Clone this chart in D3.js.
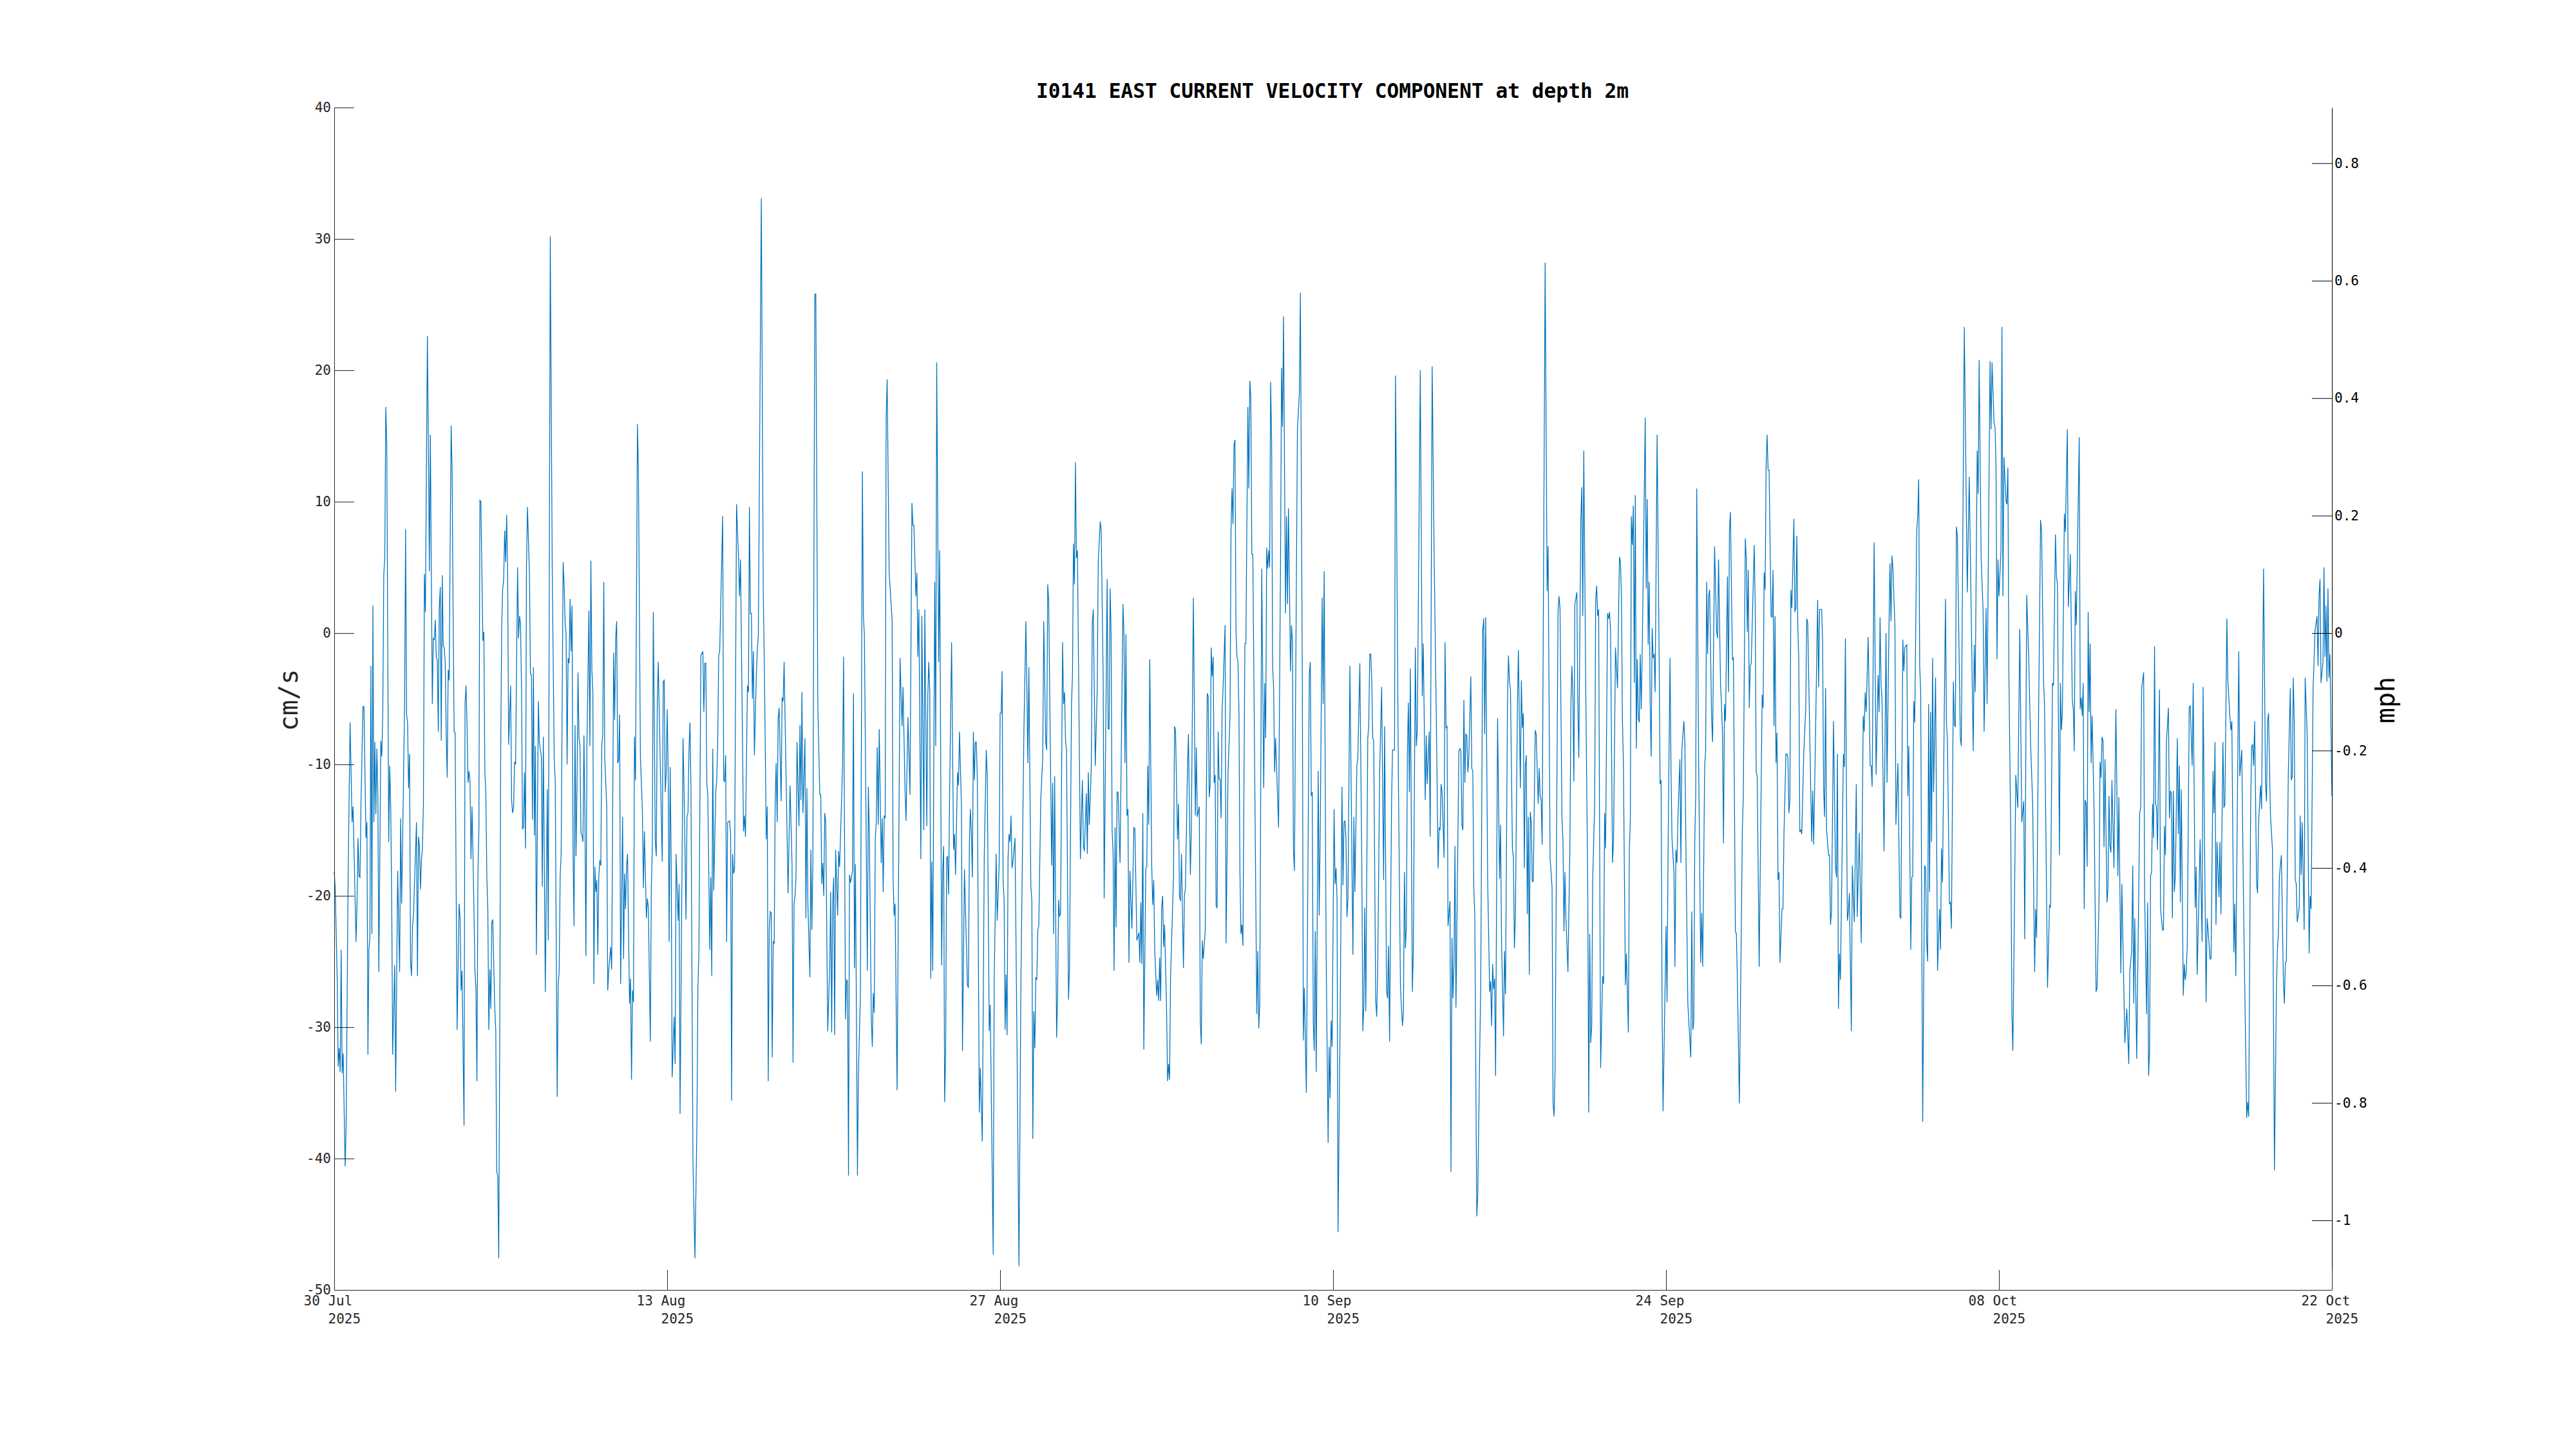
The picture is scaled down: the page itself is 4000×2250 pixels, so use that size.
<!DOCTYPE html>
<html>
<head>
<meta charset="utf-8">
<script src="https://d3js.org/d3.v7.min.js"></script>
<style>
  html, body { margin: 0; padding: 0; background: #fff; }
  text { font-family: "DejaVu Sans Mono", monospace; }
</style>
</head>
<body>
<div id="chart"></div>
<script>
const fortnight1 = [[0,-18.2],[1,-19.4],[3,-26.4],[4,-33],[5,-31.6],[6,-33.4],[7,-24.1],[8,-33.5],[9,-32],[11,-40.6],[12,-37.5],[14,-18.8],[16,-6.8],[18,-14.4],[19,-13.2],[22,-23.5],[23,-20.6],[24,-15.6],[25,-18.5],[26,-18.6],[27,-13],[29,-5.6],[30,-5.6],[32,-15.6],[33,-14.4],[34,-32.1],[35,-24.1],[36,-23.2],[37,-2.5],[38,-22.9],[39,2.1],[40,-14.4],[41,-8.3],[42,-13.8],[43,-8.8],[44,-12.1],[45,-25.8],[47,-8.2],[48,-9.4],[49,-6],[50,4.5],[51,5.7],[52,17.2],[53,14.4],[55,-15.9],[56,-10.1],[57,-13.2],[58,-20.5],[59,-32.1],[61,-25.3],[62,-34.9],[64,-18.1],[66,-25.8],[67,-14.1],[68,-20.6],[69,-15.9],[71,-5.4],[72,7.9],[73,-6.2],[74,-6.8],[75,-11.8],[76,-9.2],[77,-25],[78,-26.1],[79,-22.3],[80,-21.4],[83,-14.4],[84,-26.1],[85,-15.5],[86,-16.2],[87,-19.5],[88,-17.3],[89,-16.4],[90,-13],[91,4.5],[92,1.6],[94,22.6],[95,14.4],[96,4.7],[97,15.1],[98,4.5],[99,-5.4],[100,-0.4],[101,-0.5],[102,1],[103,-1.9],[104,-2],[105,-7.5],[106,1.9],[107,3.5],[108,-8.2],[109,4.4],[110,-1],[111,-1.1],[112,-2.2],[113,-7.7],[114,-11],[115,-2.8],[116,-3.6],[117,6.9],[118,15.8],[119,12.2],[120,1],[121,-7.5],[122,-7.6],[124,-30.2],[126,-20.6],[127,-21.7],[128,-27.2],[129,-25.7],[131,-37.5],[132,-5.4],[133,-4],[134,-7.1],[135,-11.4],[136,-10.5],[137,-11.2],[138,-17.2],[139,-13.2],[140,-16.8],[142,-25.6],[143,-27.1],[144,-34.1],[145,-18.3],[146,-14.8],[147,10.1],[148,10],[150,-0.6],[151,0.1],[152,-10.6],[153,-12.1],[154,-18.5],[155,-21.1],[156,-30.2],[157,-25.6],[158,-28.6],[159,-22],[160,-21.8],[162,-28.6],[163,-30.2],[164,-41],[165,-41.3],[166,-47.6],[167,-31],[168,-8.9],[169,0.5],[170,3.4],[171,4.1],[172,7.8],[173,5.4],[174,9],[175,4.5],[176,-8.5],[178,-4],[179,-12.7],[180,-13.7],[181,-13.3],[182,-9.8],[183,-10],[185,5],[186,-0.4],[187,1.3],[188,0.8],[189,-4.2],[190,-14.9],[191,-14.8],[192,-10.6],[193,-16.4],[194,5.1],[195,9.6],[197,4.5],[198,-3.1],[199,-3.2],[200,-14.2],[201,-2.6],[202,-15.4],[203,-8.6],[204,-24.5],[206,-5.2],[207,-8.3],[209,-9.4],[210,-19.3],[211,-7.9],[213,-27.3],[215,-11.9],[216,-23.4],[218,30.2],[220,4.8],[222,-9.5],[223,-11.2],[225,-35.3],[226,-26.7],[227,-25.8],[228,-18.5],[229,-16.8],[231,5.4],[232,3.6],[233,0.8],[234,-0.1],[235,-10],[236,-1.9],[237,-2.3],[238,2.6],[239,-1.4],[240,2.1],[241,-16.8],[242,-22.3],[243,-7],[244,-17],[245,-11.6],[246,-3],[247,-8],[248,-8.6],[249,-15.2],[250,-15.4],[251,-15.9],[252,-7.8],[253,-14.2],[254,-24.6],[255,-8.6],[257,1.7],[258,-8.6],[259,5.5],[260,-2.8],[261,-4.5],[262,-26.7],[263,-17.8],[264,-19.7],[265,-18.8],[266,-24.5],[267,-18.5],[268,-17.3],[269,-17.7],[270,-8.6],[271,-7.7],[272,3.9],[273,-9.5],[275,-13.2],[276,-27.2],[277,-25.7],[279,-23.9],[280,-25.6],[282,-1.5],[283,-6.6],[284,-0.4],[285,0.9],[286,-9.9],[287,-9.7],[288,-6.2],[289,-26.7],[291,-14],[292,-24.8],[293,-18.3],[294,-21],[295,-17.7],[296,-16.8],[298,-28.2],[299,-26.3],[300,-34],[301,-27.2],[302,-28.1],[303,-7.9],[304,-11.2],[306,15.9],[307,12.1],[309,-9.5],[311,-13.6]];
const fortnight2 = [[312,-19.4],[313,-15.1],[315,-21.7],[316,-20.2],[317,-20.9],[319,-31.1],[320,-19.4],[321,-16.2],[322,1.6],[324,-15.9],[325,-17],[326,-5.4],[327,-2.2],[331,-17.4],[332,-3.7],[333,-3.6],[334,-12.1],[335,-10.7],[336,-5.8],[337,-10.6],[338,-23.5],[339,-10.2],[340,-17],[341,-33.8],[343,-29.2],[344,-32.8],[345,-16.8],[347,-21.9],[348,-19.1],[349,-36.6],[352,-8],[353,-11.8],[355,-21.8],[356,-13.9],[357,-13.7],[358,-8.9],[359,-6.8],[360,-11.8],[362,-40.2],[364,-47.6],[366,-37.5],[367,-27],[368,-24.4],[370,-1.7],[372,-1.4],[373,-6],[374,-2.3],[375,-2.3],[376,-11.4],[377,-12.4],[379,-24.1],[380,-18.6],[381,-26.1],[382,-8.8],[383,-19.6],[385,-12.1],[386,-11.2],[387,-8.3],[388,-1.7],[389,-1.4],[392,8.9],[393,-11.2],[394,-11.3],[395,-9.3],[396,-23.5],[397,-14.4],[399,-14.3],[400,-15.3],[401,-35.6],[402,-16.8],[403,-18.3],[404,-18],[406,9.8],[408,5.7],[409,2.8],[410,5.6],[413,-15.1],[414,-13.9],[415,-15.5],[417,-4],[418,-4.5],[419,9.6],[420,1.5],[421,1.5],[422,-5],[423,-1.4],[424,-9.3],[426,-3.1],[427,-1.3],[428,-0.1],[431,33.1],[433,2.8],[434,-2.2],[436,-15.7],[437,-13.2],[438,-34.1],[439,-22.6],[440,-21.2],[441,-21.3],[442,-32.3],[443,-23.5],[444,-23.6],[445,-12.7],[446,-9.9],[447,-14.4],[448,-6.5],[449,-5.7],[451,-12.8],[452,-4.9],[453,-5.2],[454,-2.2],[458,-19.8],[460,-11.6],[462,-17.6],[463,-32.7],[464,-20.6],[465,-20],[466,-18.6],[467,-8.3],[469,-14.7],[470,-7],[471,-12.7],[472,-4.5],[473,-13.7],[475,-8],[476,-21.7],[477,-11.8],[478,-20.6],[480,-26.2],[481,-16.5],[482,-22.6],[483,-17.6],[485,25.8],[486,25.8],[488,-5.4],[490,-12.3],[491,-12.3],[492,-19.1],[493,-17.5],[494,-20],[495,-13.7],[496,-14.3],[498,-30.3],[500,-25.4],[501,-19.7],[502,-30.4],[503,-20.6],[504,-18.6],[505,-30.6],[506,-16.5],[508,-21.5],[509,-16.6],[510,-17.8],[513,-10.1],[514,-1.8],[516,-29.4],[517,-26.4],[518,-26.5],[519,-41.3],[520,-18.4],[521,-19],[523,-18.1],[524,-4.6],[525,-25.5],[526,-17.6],[528,-41.3],[529,-33.4],[531,-27.6],[533,12.3],[534,1.3],[535,-0.1],[538,-25.7],[539,-11.7],[540,-15.3],[542,-29.3],[543,-31.5],[544,-27.4],[545,-28.9],[546,-15.6],[547,-14.4],[548,-8.7],[549,-14.6],[550,-7.3],[552,-17.5],[553,-14.1],[554,-19.7],[555,-13.9],[556,-14.1],[557,16.3],[558,19.3],[560,4.6],[563,1],[564,-18.8],[565,-21.5],[566,-20.6],[568,-34.8],[570,-13.3],[571,-1.9],[573,-7.1],[574,-4.1],[576,-11.8],[577,-14.3],[579,-6.4],[581,-12.3],[583,9.9],[584,8.2],[585,8.2],[587,2.8],[588,4.6],[589,-1.8],[590,1.8],[592,-17.2],[593,1.3],[595,-15],[596,1.8],[598,-14.7],[599,-4.8],[600,-2.2],[601,-4.5],[602,-26.3],[603,-17.4],[604,-25.7],[606,3.9],[607,-8.6],[608,20.6],[610,-2.2],[611,6.3],[613,-25.3],[614,-18.2],[615,-16.2],[616,-35.7],[617,-32],[618,-17.1],[619,-17],[620,-19.9],[621,-12.4],[623,-0.7],[625,-16.5],[626,-15.3],[627,-18.4],[629,-10.6],[630,-11.6],[631,-7.5],[633,-13.3],[634,-31.8],[636,-18]];
const fortnight3 = [[639,-26.8],[640,-27],[641,-15.9],[642,-13.4],[643,-15.3],[644,-18.6],[645,-7.5],[646,-11.2],[647,-8.3],[648,-8.3],[649,-11.2],[651,-36.5],[652,-33.1],[654,-38.7],[656,-16.8],[658,-8.9],[659,-10.9],[661,-30.3],[662,-28.3],[665,-47.3],[666,-26.4],[668,-16.8],[669,-21.9],[671,-17.7],[672,-6.1],[673,-6.1],[674,-2.9],[675,-18.8],[676,-20.3],[677,-30.2],[678,-26],[679,-30.6],[680,-17.1],[681,-15.3],[682,-15.9],[683,-13.9],[684,-17.9],[685,-17.4],[687,-15.6],[689,-31.1],[691,-48.2],[693,-26.4],[696,-7.4],[698,0.9],[700,-9.9],[701,-2.6],[703,-19.3],[704,-20.3],[705,-38.5],[706,-28.8],[707,-31.6],[708,-26.2],[709,-26.4],[710,-22.6],[711,-22.3],[713,-12.7],[715,-9.5],[716,0.9],[718,-8.3],[719,-8.9],[720,3.7],[721,2.5],[724,-17.7],[725,-11.4],[726,-22.9],[727,-10.9],[729,-30.8],[730,-27.6],[731,-20.3],[732,-21.6],[733,-21.3],[735,-0.7],[736,-5.4],[737,-4.5],[738,-8.2],[739,-8.9],[741,-27.9],[742,-25.5],[744,-5.4],[745,-3.3],[746,6.8],[747,3.7],[748,13],[749,5.7],[750,6.3],[753,-17.2],[755,-11.2],[756,-16.2],[757,-16.6],[759,-12.2],[760,-16.8],[761,-10.6],[762,-14.6],[764,-10.1],[765,0.8],[766,1.8],[768,-10.1],[770,-4.2],[771,5.4],[773,8.5],[774,7.8],[776,-3.6],[777,-20.2],[780,4.1],[781,-7.3],[782,-7.3],[783,3.4],[784,-0.1],[785,-15],[786,-16.8],[787,-25.7],[788,-14.8],[789,-22.4],[790,-12.1],[791,-12.1],[793,-17.5],[795,-4.2],[796,2.2],[797,-0.1],[798,-9.9],[799,-0.1],[800,-13.9],[801,-13.4],[802,-25.1],[803,-18.1],[805,-22.5],[807,-14.8],[808,-14.9],[810,-23.4],[812,-22.8],[813,-25.1],[814,-20.5],[815,-25.2],[816,-13.7],[817,-31.7],[819,-17.9],[820,-17.8],[821,-10.1],[822,-14.6],[823,-2],[825,-17.7],[826,-20.7],[827,-18.8],[828,-24.1],[830,-27.6],[831,-26.4],[832,-28],[833,-24.7],[834,-28],[835,-20.9],[836,-20],[837,-23.9],[838,-22.2],[840,-28.8],[841,-34.1],[842,-32.8],[843,-34],[844,-26.1],[847,-18.5],[848,-7.1],[849,-7.4],[851,-15.7],[852,-13],[853,-20],[854,-20.4],[855,-16.8],[857,-25.5],[858,-20],[859,-19.4],[861,-10.6],[862,-7.7],[864,-18.4],[865,-14.7],[867,2.7],[869,-13.9],[870,-8.7],[871,-14],[873,-13.2],[874,-29.6],[875,-31.3],[876,-23.4],[877,-24.8],[879,-22.6],[881,-4.6],[882,-4.8],[883,-12.5],[884,-11.5],[885,-1.1],[886,-3.3],[887,-1.8],[888,-11.4],[889,-10.8],[890,-20.8],[891,-20.9],[892,-7.5],[893,-11.1],[894,-11.1],[895,-14.1],[896,-6],[897,-4.2],[899,0.6],[900,-23.6],[902,-10.6],[904,-6.3],[905,7.8],[906,11],[907,8.3],[908,14.3],[909,14.7],[910,0.2],[911,-1.8],[912,-2.2],[913,-6],[914,-18.2],[915,-22.9],[916,-22.2],[917,-23.8],[919,-0.8],[920,-0.8],[922,17.2],[923,11],[924,19.2],[925,17.9],[926,6],[927,6],[931,-29],[932,-24.2],[933,-30.1],[934,-28.2],[936,4.9],[938,-11.8],[939,-3.8],[940,-8],[941,6.5],[942,4.9],[943,6.3],[944,5],[945,19.1],[946,14.5],[947,-2.5],[948,-4.2],[949,-10.6],[950,-8],[953,-14.8],[955,5.7],[956,20.2],[957,15.7],[958,24.1],[959,12.7],[960,1.5],[961,8.9],[962,2.2],[963,9.5]];
const fortnight4 = [[965,-2.9],[966,0.6],[967,-0.7],[968,-16.5],[969,-18.1],[972,15.5],[974,18.3],[975,25.9],[977,-4.2],[978,-31],[979,-27],[981,-35],[984,-3.2],[985,-2.2],[986,-12.4],[987,-12.1],[988,-29.6],[989,-31.8],[990,-22.7],[991,-33.4],[993,-10.5],[994,-21.5],[995,-15.3],[997,2.7],[998,-5.4],[999,4.7],[1001,-24.4],[1003,-38.8],[1004,-31.5],[1005,-35.4],[1006,-29.5],[1007,-31.5],[1009,-13.4],[1010,-19.1],[1011,-17.9],[1012,-20.3],[1013,-45.6],[1015,-30.5],[1017,-11.7],[1018,-19.2],[1019,-14.4],[1020,-14.3],[1021,-15.6],[1022,-21.6],[1023,-20.3],[1025,-2.5],[1028,-24.5],[1029,-14],[1030,-19.7],[1032,-10.1],[1033,-9.5],[1035,-2.3],[1037,-17.7],[1038,-30.3],[1039,-28.5],[1040,-20.9],[1041,-28.8],[1043,-8],[1044,-7.1],[1045,-1.6],[1046,-1.6],[1047,-3.6],[1048,-8],[1049,-8.2],[1051,-27.9],[1052,-29.2],[1053,-25.8],[1055,-10.6],[1057,-4.1],[1059,-18.8],[1060,-7.1],[1062,-27.3],[1063,-27.8],[1064,-23.8],[1065,-31.1],[1067,-13],[1068,-8.9],[1070,-8.9],[1071,19.6],[1072,9.8],[1074,-11.8],[1076,-27],[1078,-29.9],[1079,-28.8],[1080,-18.2],[1081,-24],[1082,-22.3],[1083,-8.9],[1084,-5.3],[1085,-12.1],[1086,-2.7],[1088,-27.3],[1089,-24.1],[1091,-1.1],[1092,-8.6],[1093,-7.4],[1096,20],[1098,-4.8],[1099,-0.8],[1101,-12.7],[1102,-7.8],[1103,-11.5],[1105,-7.5],[1106,-15.5],[1108,20.3],[1110,5.7],[1112,-5.4],[1114,-17.9],[1115,-14.8],[1116,-15],[1117,-11.5],[1118,-12.1],[1120,-17.1],[1121,-0.7],[1122,-7.2],[1123,-7.1],[1124,-22.3],[1126,-20.4],[1127,-41],[1128,-23.2],[1129,-27.8],[1130,-25.2],[1131,-16.2],[1132,-28.5],[1134,-15.3],[1135,-9],[1136,-8.8],[1137,-9],[1138,-14.6],[1139,-15],[1140,-5.1],[1141,-11.4],[1142,-7.7],[1143,-7.8],[1144,-10.6],[1145,-9.5],[1147,-3.3],[1148,-10.3],[1149,-10.5],[1150,-19.4],[1151,-21.4],[1153,-44.4],[1154,-42.8],[1156,-31.7],[1157,-27],[1159,0.2],[1160,1.1],[1161,-7.7],[1162,1.2],[1164,-18.8],[1166,-27.3],[1167,-26.5],[1168,-29.9],[1169,-25.2],[1170,-27.1],[1171,-26.3],[1172,-33.7],[1174,-6.5],[1176,-18.7],[1177,-14.6],[1178,-23.5],[1180,-30.7],[1181,-24.2],[1182,-27.5],[1184,-5.4],[1185,-1.7],[1186,-3.7],[1187,-4.2],[1189,-16.5],[1190,-17.1],[1191,-24],[1192,-21.4],[1194,-5.7],[1195,-1.3],[1197,-11.8],[1198,-3.6],[1199,-7.2],[1200,-6.1],[1201,-17.9],[1202,-10.1],[1203,-9.3],[1204,-21.4],[1205,-14],[1206,-26],[1207,-13.6],[1208,-14.4],[1209,-18.9],[1210,-18.9],[1212,-7.4],[1213,-7.7],[1215,-13],[1216,-10.3],[1217,-12.4],[1218,-12.7],[1219,-16.1],[1222,28.2],[1224,3.2],[1225,6.6],[1227,-17.1],[1229,-19.4],[1230,-35.8],[1231,-36.8],[1232,-33.4],[1235,1.6],[1236,2.8],[1237,1.9],[1239,-14.1],[1240,-15.9],[1241,-22.7],[1242,-18.2],[1243,-21.7],[1245,-25.8],[1247,-16.2],[1248,-5.4],[1249,-2.5],[1250,-4.8],[1251,-11.3],[1252,2.2],[1254,3.1],[1255,-5.4],[1256,-9.5],[1258,8.6],[1259,11.1],[1260,1.3],[1261,13.9],[1263,-4.2],[1265,-19.4],[1266,-36.5],[1267,-22.9],[1268,-31.2],[1269,-29.9],[1270,-18.8],[1272,-13],[1273,2.5],[1274,3.6],[1275,1.3],[1276,1.8],[1278,-33.1],[1280,-26.1],[1281,-26.7],[1282,-13.7],[1283,-16.4],[1285,1.5],[1286,1.1],[1287,1.6]];
const fortnight5 = [[1288,0.2],[1290,-17.5],[1291,-15.9],[1293,-1.1],[1295,-4.2],[1297,5.8],[1298,5.4],[1299,2.8],[1300,-6.5],[1301,-10.1],[1303,-26.8],[1304,-24.4],[1306,-30.4],[1307,-16.5],[1308,-14.1],[1309,8.9],[1310,6.7],[1311,9.7],[1312,-3.8],[1313,10.5],[1314,-8.8],[1315,-2],[1316,-6.5],[1317,-6.8],[1318,-1.6],[1319,-5.8],[1320,-1.3],[1323,16.4],[1324,3.4],[1325,10.2],[1326,-0.9],[1327,3.9],[1328,-5.4],[1329,-9.4],[1330,0.4],[1331,-1.9],[1332,-1.6],[1333,-4.5],[1335,15.1],[1337,-1.3],[1338,-11.5],[1339,-11.2],[1340,-28.2],[1341,-36.4],[1342,-31.7],[1344,-22.3],[1345,-28.1],[1346,-17.1],[1348,-1.9],[1349,-10.1],[1350,-15.6],[1352,-18.2],[1353,-25.4],[1354,-16.5],[1355,-17.5],[1356,-14.1],[1358,-9.6],[1359,-17.5],[1360,-8.9],[1362,-6.7],[1363,-8.3],[1364,-15.9],[1366,-28.2],[1369,-32.3],[1370,-21.2],[1371,-30.2],[1372,-29.6],[1373,-15.9],[1374,-12.1],[1375,11],[1377,-10.6],[1379,-25.1],[1380,-21.3],[1381,-25.4],[1383,-10.1],[1384,-8.9],[1385,3.9],[1386,-1.6],[1387,2.8],[1388,3.3],[1390,-6.5],[1391,-8.3],[1393,6.6],[1395,0.2],[1396,-0.4],[1397,5.6],[1399,-3.9],[1400,-5.4],[1401,-7.7],[1402,-16],[1403,-5.4],[1404,-6.7],[1406,4.3],[1407,-4.5],[1408,7.8],[1409,9.2],[1411,-2],[1412,-1.9],[1414,-22.7],[1415,-22.9],[1416,-26.4],[1418,-35.8],[1420,-22.3],[1421,-15],[1422,-12.4],[1424,7.2],[1425,5.7],[1426,0.1],[1427,4.8],[1428,-5.7],[1429,-2.5],[1430,-2.3],[1433,6.7],[1434,2.2],[1435,-10.6],[1436,-10.9],[1438,-25.4],[1441,-4.7],[1442,-5.7],[1443,4.6],[1444,3.3],[1445,12.7],[1446,15.1],[1447,12.4],[1448,12.4],[1450,1.3],[1451,1.2],[1452,4.8],[1453,-7.1],[1454,1.3],[1455,-9.9],[1456,-7.6],[1457,-18.8],[1458,-18.2],[1459,-25.1],[1461,-21],[1462,-21],[1463,-15.3],[1465,-9.2],[1466,-9.2],[1467,-9.5],[1468,-13.7],[1469,-12.7],[1470,3.3],[1471,1.9],[1473,8.7],[1474,1.6],[1475,1.9],[1476,7.4],[1477,0.5],[1478,-2.2],[1479,-15.1],[1480,-15],[1481,-15.3],[1483,-9.1],[1485,-5.7],[1486,1.1],[1487,0.8],[1491,-15.9],[1492,-12],[1493,-16.1],[1495,-7.1],[1497,2.5],[1498,-4.1],[1499,1.8],[1501,1.8],[1502,-0.6],[1503,-11.8],[1504,-14],[1505,-4.2],[1506,-15],[1508,-16.9],[1509,-16.9],[1510,-22.2],[1511,-21.2],[1513,-6.7],[1515,-17.7],[1516,-18.6],[1517,-9.2],[1518,-28.6],[1519,-24.4],[1520,-26.4],[1523,-9.2],[1524,-10.2],[1525,-0.4],[1527,-21.9],[1528,-21.2],[1529,-19.8],[1531,-30.3],[1532,-17.7],[1533,-20],[1534,-22],[1536,-11.5],[1537,-21.6],[1539,-15.2],[1541,-23.6],[1543,-6.3],[1544,-7.5],[1545,-4.5],[1546,-6],[1548,-0.3],[1550,-10.1],[1551,-10.1],[1552,-11.7],[1554,6.9],[1556,-10.8],[1558,-3.2],[1559,-6],[1560,1.2],[1561,-3.9],[1562,-5.1],[1564,-16.6],[1566,0],[1567,-11.4],[1569,0.5],[1570,5.3],[1571,0.9],[1572,5.9],[1573,4.9],[1575,0.5],[1576,-14.6],[1578,-9.9],[1580,-21.6],[1581,-21.7],[1583,-0.5],[1584,-2.9],[1585,-1.1],[1587,-0.9],[1588,-12.4],[1589,-8.6],[1591,-24.1],[1592,-18.6],[1593,-18.5],[1594,-5.2],[1595,-6.8],[1597,7.8],[1598,8.9],[1599,11.7],[1600,-2.5],[1601,-4.5],[1603,-37.2],[1605,-17.7],[1606,-17.9],[1607,-23.5],[1608,-25],[1609,-5.4],[1610,-19.7],[1611,-6],[1612,-15.9]];
const fortnight6 = [[1613,-1.9],[1614,-12.1],[1616,-3.4],[1618,-25.7],[1620,-21],[1621,-24.1],[1622,-16.4],[1623,-19],[1626,2.6],[1627,-6.8],[1628,-8.3],[1630,-20.6],[1631,-20.5],[1632,-22.5],[1634,-3.7],[1635,-7],[1636,-7.1],[1637,8.1],[1638,7.4],[1641,-8],[1642,-8.6],[1645,23.3],[1648,3.1],[1650,11.9],[1654,-9],[1655,-0.9],[1656,-4.5],[1658,13.9],[1659,10.6],[1660,20.8],[1662,5.7],[1664,1.6],[1665,-7.5],[1667,1.9],[1668,-5.4],[1671,20.7],[1672,15.5],[1673,20.6],[1675,16],[1676,15.7],[1677,12.9],[1678,-2],[1679,5.6],[1680,2.8],[1682,6.3],[1683,23.3],[1684,2.8],[1685,13.4],[1687,10.1],[1688,9.8],[1689,12.6],[1690,-3],[1692,-16.2],[1693,-28.8],[1694,-31.8],[1695,-25.2],[1697,-10.8],[1699,-13.3],[1701,0.3],[1703,-14.4],[1705,-12.8],[1706,-23.3],[1708,2.9],[1710,-1.9],[1712,-8.6],[1714,-13],[1716,-25.8],[1717,-21],[1718,-23.2],[1720,-6],[1722,8.6],[1723,7.8],[1725,-3.7],[1726,-5.6],[1729,-27],[1731,-20.7],[1732,-20.9],[1734,-3.8],[1735,-4],[1737,7.5],[1738,4.3],[1739,3.7],[1741,-16.9],[1742,-3.8],[1743,-7.4],[1744,-6],[1746,9.1],[1747,7.7],[1749,15.5],[1750,2],[1752,6],[1754,-5.1],[1755,-5.8],[1756,-9],[1757,3.2],[1758,0.6],[1761,14.9],[1762,-5.8],[1763,-4.9],[1764,-6.3],[1765,-3.8],[1766,-21],[1767,-12.7],[1768,-13],[1769,-17.8],[1770,1.6],[1771,-6],[1772,-0.8],[1773,-9.9],[1774,-6.3],[1776,-13.6],[1778,-27.3],[1779,-27],[1781,-20.3],[1782,-9.8],[1783,-11],[1784,-7.9],[1785,-8.2],[1786,-16.3],[1787,-9.6],[1789,-20.5],[1790,-19.4],[1791,-12.4],[1792,-16.2],[1793,-16.7],[1794,-11.2],[1796,-17.9],[1798,-5.8],[1800,-18.5],[1801,-12.5],[1803,-25.9],[1804,-19.1],[1807,-31.2],[1809,-28.6],[1811,-32.8],[1812,-25.8],[1814,-24.1],[1815,-17.7],[1816,-28.2],[1817,-21.7],[1819,-32.4],[1822,-13.7],[1823,-13.3],[1824,-4.2],[1826,-3],[1827,-20],[1829,-29],[1830,-20.5],[1831,-33.7],[1832,-31.7],[1833,-18.5],[1834,-18.2],[1835,-13],[1836,-15.6],[1837,-1],[1838,-12.9],[1839,-13.3],[1840,-16.5],[1842,-4.3],[1843,-20.9],[1845,-22.6],[1846,-22.6],[1847,-14.7],[1848,-16.9],[1849,-8.3],[1851,-5.7],[1852,-14.1],[1853,-12],[1854,-12.2],[1855,-21.7],[1856,-12],[1857,-19.7],[1858,-18.4],[1860,-8],[1861,-15.3],[1862,-10.1],[1863,-20.5],[1864,-11.9],[1866,-27.6],[1867,-25.2],[1868,-26.4],[1869,-25.8],[1870,-23.8],[1872,-5.7],[1873,-5.5],[1875,-10.1],[1876,-3.8],[1878,-20.9],[1879,-17.8],[1880,-26],[1882,-19.4],[1883,-15.7],[1885,-23.5],[1886,-4.1],[1887,-12.4],[1889,-28.1],[1890,-21.7],[1891,-22.6],[1893,-24.8],[1894,-24.8],[1896,-10.5],[1897,-13.7],[1898,-8.3],[1899,-22.2],[1900,-15.9],[1902,-20.1],[1903,-15.9],[1904,-21.4],[1906,-8.3],[1907,-13.3],[1908,-13],[1910,1.1],[1911,-3.6],[1913,-6.3],[1914,-7.4],[1915,-6.7],[1917,-24.3],[1918,-20.6],[1919,-26.1],[1922,-1.4],[1923,-10.9],[1925,-8.9],[1927,-21.7],[1930,-36.9],[1931,-35.7],[1932,-36.8],[1934,-13],[1935,-8.6],[1936,-8.5],[1937,-10.1],[1938,-6.7],[1940,-19.1],[1941,-19.8],[1942,-14.4],[1944,-11.6],[1945,-13.4],[1947,4.9],[1949,-11.5],[1950,-12.8],[1951,-6.8],[1952,-6.1],[1954,-13.9],[1956,-16.5],[1958,-40.9],[1960,-27],[1961,-24.1],[1962,-22.9],[1963,-18.5],[1965,-16.9],[1967,-26.4],[1968,-28.2],[1969,-25.1],[1970,-25],[1972,-10.6],[1974,-4.2],[1975,-11.2],[1976,-10.9],[1977,-3.4],[1978,-6.8],[1979,-18.8],[1980,-19.1],[1981,-22],[1983,-20.9],[1984,-13.9],[1985,-18.4],[1986,-14.4],[1988,-22.6],[1989,-3.4],[1991,-7.7],[1993,-24.4],[1994,-20],[1995,-21],[1997,-4.2],[1999,0.2],[2001,1.3],[2002,-2.5],[2003,2.8],[2004,4.1],[2005,-3.8],[2007,-2.2],[2008,5],[2009,-1.8],[2010,2.1],[2011,-3.7],[2012,3.4],[2013,-3.4],[2014,-1.6],[2016,-12.4]];

const cmTicks = [40, 30, 20, 10, 0, -10, -20, -30, -40, -50];
const mphTicks = [0.8, 0.6, 0.4, 0.2, 0, -0.2, -0.4, -0.6, -0.8, -1];
const dateTicks = ["2025-07-30", "2025-08-13", "2025-08-27", "2025-09-10", "2025-09-24", "2025-10-08", "2025-10-22"];

const MPH_POR_CMS = 0.0223694;
const inicio = Date.UTC(2025, 6, 30);
const serie = [...fortnight1, ...fortnight2, ...fortnight3, ...fortnight4, ...fortnight5, ...fortnight6]
    .map(d => ({ fecha: new Date(inicio + d[0] * 3600000), v: d[1] }));

const ancho = 4000, alto = 2250;
const xIzq = 519, xDer = 3621, yArriba = 167, yAbajo = 2003;
const tickLen = 31;
const fuenteTicks = 21;

const svg = d3.select("#chart").append("svg")
    .attr("width", ancho)
    .attr("height", alto)
    .style("display", "block");

const x = d3.scaleUtc()
    .domain([new Date(inicio), new Date("2025-10-22T00:00:00Z")])
    .range([xIzq, xDer]);
const yCm = d3.scaleLinear().domain([-50, 40]).range([yAbajo, yArriba]);
const yMph = d3.scaleLinear().domain([-50 * MPH_POR_CMS, 40 * MPH_POR_CMS]).range([yAbajo, yArriba]);

// Serie
const linea = d3.line().x(d => x(d.fecha)).y(d => yCm(d.v));
svg.append("path")
    .datum(serie)
    .attr("fill", "none")
    .attr("stroke", "#0072BD")
    .attr("stroke-width", 1.25)
    .attr("stroke-linejoin", "miter")
    .attr("d", linea);

// Ejes
function estilo(g, color, size) {
    g.selectAll("path, line").attr("stroke", color).attr("stroke-width", 1);
    g.selectAll("text")
        .attr("fill", color)
        .attr("font-size", size)
        .attr("font-family", '"DejaVu Sans Mono", monospace');
}

svg.append("g")
    .attr("transform", `translate(${xIzq},0)`)
    .call(d3.axisLeft(yCm).tickValues(cmTicks).tickFormat(String).tickSizeInner(-tickLen).tickSizeOuter(0).tickPadding(5))
    .call(estilo, "#262626", fuenteTicks);

svg.append("g")
    .attr("transform", `translate(${xDer},0)`)
    .call(d3.axisRight(yMph).tickValues(mphTicks).tickFormat(String).tickSizeInner(-tickLen).tickSizeOuter(0).tickPadding(4))
    .call(estilo, "#000", fuenteTicks);

const ejeX = svg.append("g")
    .attr("transform", `translate(0,${yAbajo})`)
    .call(d3.axisBottom(x).tickValues(dateTicks.map(d => new Date(d + "T00:00:00Z"))).tickFormat("").tickSizeInner(-tickLen).tickSizeOuter(0))
    .call(estilo, "#262626", fuenteTicks);

const fmtDia = d3.utcFormat("%d %b");
const fmtAnio = d3.utcFormat("%Y");
ejeX.selectAll(".tick").each(function (d) {
    const t = d3.select(this);
    t.select("text").remove();
    t.append("text").attr("x", -48).attr("y", 24).attr("text-anchor", "start")
        .attr("fill", "#262626").attr("font-size", fuenteTicks).text(fmtDia(d));
    t.append("text").attr("x", -10).attr("y", 52).attr("text-anchor", "start")
        .attr("fill", "#262626").attr("font-size", fuenteTicks).text(fmtAnio(d));
});

// Titulo y etiquetas
svg.append("text")
    .attr("x", (xIzq + xDer) / 2 - 1)
    .attr("y", 152)
    .attr("text-anchor", "middle")
    .attr("font-size", 31.2)
    .attr("font-weight", "bold")
    .attr("fill", "#000")
    .text("I0141 EAST CURRENT VELOCITY COMPONENT at depth 2m");

svg.append("text")
    .attr("transform", `translate(462,1087) rotate(-90)`)
    .attr("text-anchor", "middle")
    .attr("font-size", 40)
    .attr("fill", "#262626")
    .text("cm/s");

svg.append("text")
    .attr("transform", `translate(3718,1087) rotate(-90)`)
    .attr("text-anchor", "middle")
    .attr("font-size", 40)
    .attr("fill", "#000")
    .text("mph");
</script>
</body>
</html>
